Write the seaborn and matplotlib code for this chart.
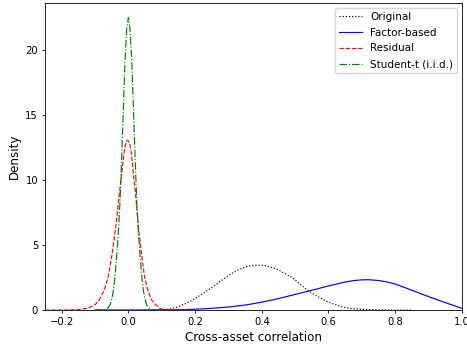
import matplotlib
matplotlib.use("Agg")
import matplotlib.pyplot as plt
import seaborn as sns
import pandas as pd

# Density curves
orig_x = [0.05, 0.08, 0.10, 0.123, 0.15, 0.174, 0.20, 0.224, 0.25, 0.274, 0.30, 0.324,
          0.354, 0.37, 0.384, 0.40, 0.414, 0.434, 0.454, 0.474, 0.494, 0.514, 0.534,
          0.554, 0.574, 0.60, 0.625, 0.645, 0.67, 0.695, 0.72, 0.75, 0.80, 0.85]
orig_y = [0.0, 0.005, 0.02, 0.07, 0.25, 0.52, 0.88, 1.28, 1.72, 2.18, 2.65, 3.03,
          3.34, 3.42, 3.45, 3.44, 3.39, 3.25, 3.03, 2.75, 2.44, 2.0, 1.6,
          1.25, 0.95, 0.6, 0.37, 0.21, 0.12, 0.07, 0.03, 0.01, 0.0, 0.0]

fact_x = [-0.10, 0.0, 0.10, 0.15, 0.20, 0.25, 0.30, 0.35, 0.40, 0.45, 0.50, 0.55,
          0.60, 0.65, 0.675, 0.70, 0.72, 0.75, 0.775, 0.80, 0.85, 0.90, 0.95, 1.0]
fact_y = [0.0, 0.0, 0.005, 0.02, 0.06, 0.13, 0.23, 0.38, 0.60, 0.88, 1.20, 1.52,
          1.85, 2.15, 2.26, 2.32, 2.33, 2.27, 2.16, 2.0, 1.52, 1.03, 0.57, 0.13]

resid_x = [-0.25, -0.18, -0.15, -0.12, -0.10, -0.087, -0.072, -0.06, -0.047, -0.035,
           -0.029, -0.02, -0.012, -0.008, -0.004, 0.0, 0.004, 0.008, 0.015, 0.023, 0.03,
           0.038, 0.048, 0.058, 0.07, 0.083, 0.095, 0.105, 0.13, 0.20]
resid_y = [0.0, 0.0, 0.03, 0.15, 0.4, 0.8, 1.55, 2.6, 4.6, 7.0,
           8.5, 10.5, 12.3, 12.8, 13.05, 13.0, 12.8, 12.3, 10.5, 8.5, 6.4,
           4.6, 2.6, 1.55, 0.75, 0.38, 0.12, 0.04, 0.0, 0.0]

stud_x = [-0.10, -0.07, -0.065, -0.06, -0.055, -0.05, -0.045, -0.04, -0.035, -0.03,
          -0.025, -0.02, -0.015, -0.01, -0.005, 0.0, 0.005, 0.01, 0.015, 0.02, 0.025,
          0.03, 0.035, 0.04, 0.045, 0.05, 0.055, 0.06, 0.065, 0.07, 0.10]
stud_y = [0.0, 0.03, 0.08, 0.2, 0.4, 0.8, 1.5, 2.6, 4.2, 6.0,
          8.4, 11.8, 15.6, 19.2, 21.6, 22.5, 21.6, 19.2, 15.6, 11.8, 8.4,
          6.0, 4.2, 2.6, 1.5, 0.8, 0.4, 0.2, 0.08, 0.03, 0.0]

labels = ["Original", "Factor-based", "Residual", "Student-t (i.i.d.)"]
colors = ["black", "blue", "red", "green"]
styles = [":", "-", "--", "-."]

fig = plt.figure(figsize=(4.67, 3.45), dpi=100)
ax = fig.add_axes([0.0964, 0.1014, 0.8926, 0.8896])

series = [(orig_x, orig_y), (fact_x, fact_y), (resid_x, resid_y), (stud_x, stud_y)]
for (xs, ys), lab, col, ls in zip(series, labels, colors, styles):
    df = pd.DataFrame({"x": xs, "y": ys})
    sns.lineplot(data=df, x="x", y="y", ax=ax, color=col, linestyle=ls,
                 linewidth=0.85, label=lab, estimator=None)

ax.set_xlim(-0.25, 1.0)
ax.set_ylim(0, 23.6)
ax.set_xticks([-0.2, 0.0, 0.2, 0.4, 0.6, 0.8, 1.0])
ax.set_yticks([0, 5, 10, 15, 20])
ax.set_xlabel("Cross-asset correlation", fontsize=8.6, labelpad=3)
ax.set_ylabel("Density", fontsize=8.6, labelpad=3)
ax.tick_params(labelsize=7.2, length=2.5, width=0.6, pad=2.5)
for s in ax.spines.values():
    s.set_linewidth(0.6)
ax.legend(loc="upper right", fontsize=7.5, handlelength=2.2, labelspacing=0.55,
          borderaxespad=0.45)

fig.savefig("out.png", dpi=100)
